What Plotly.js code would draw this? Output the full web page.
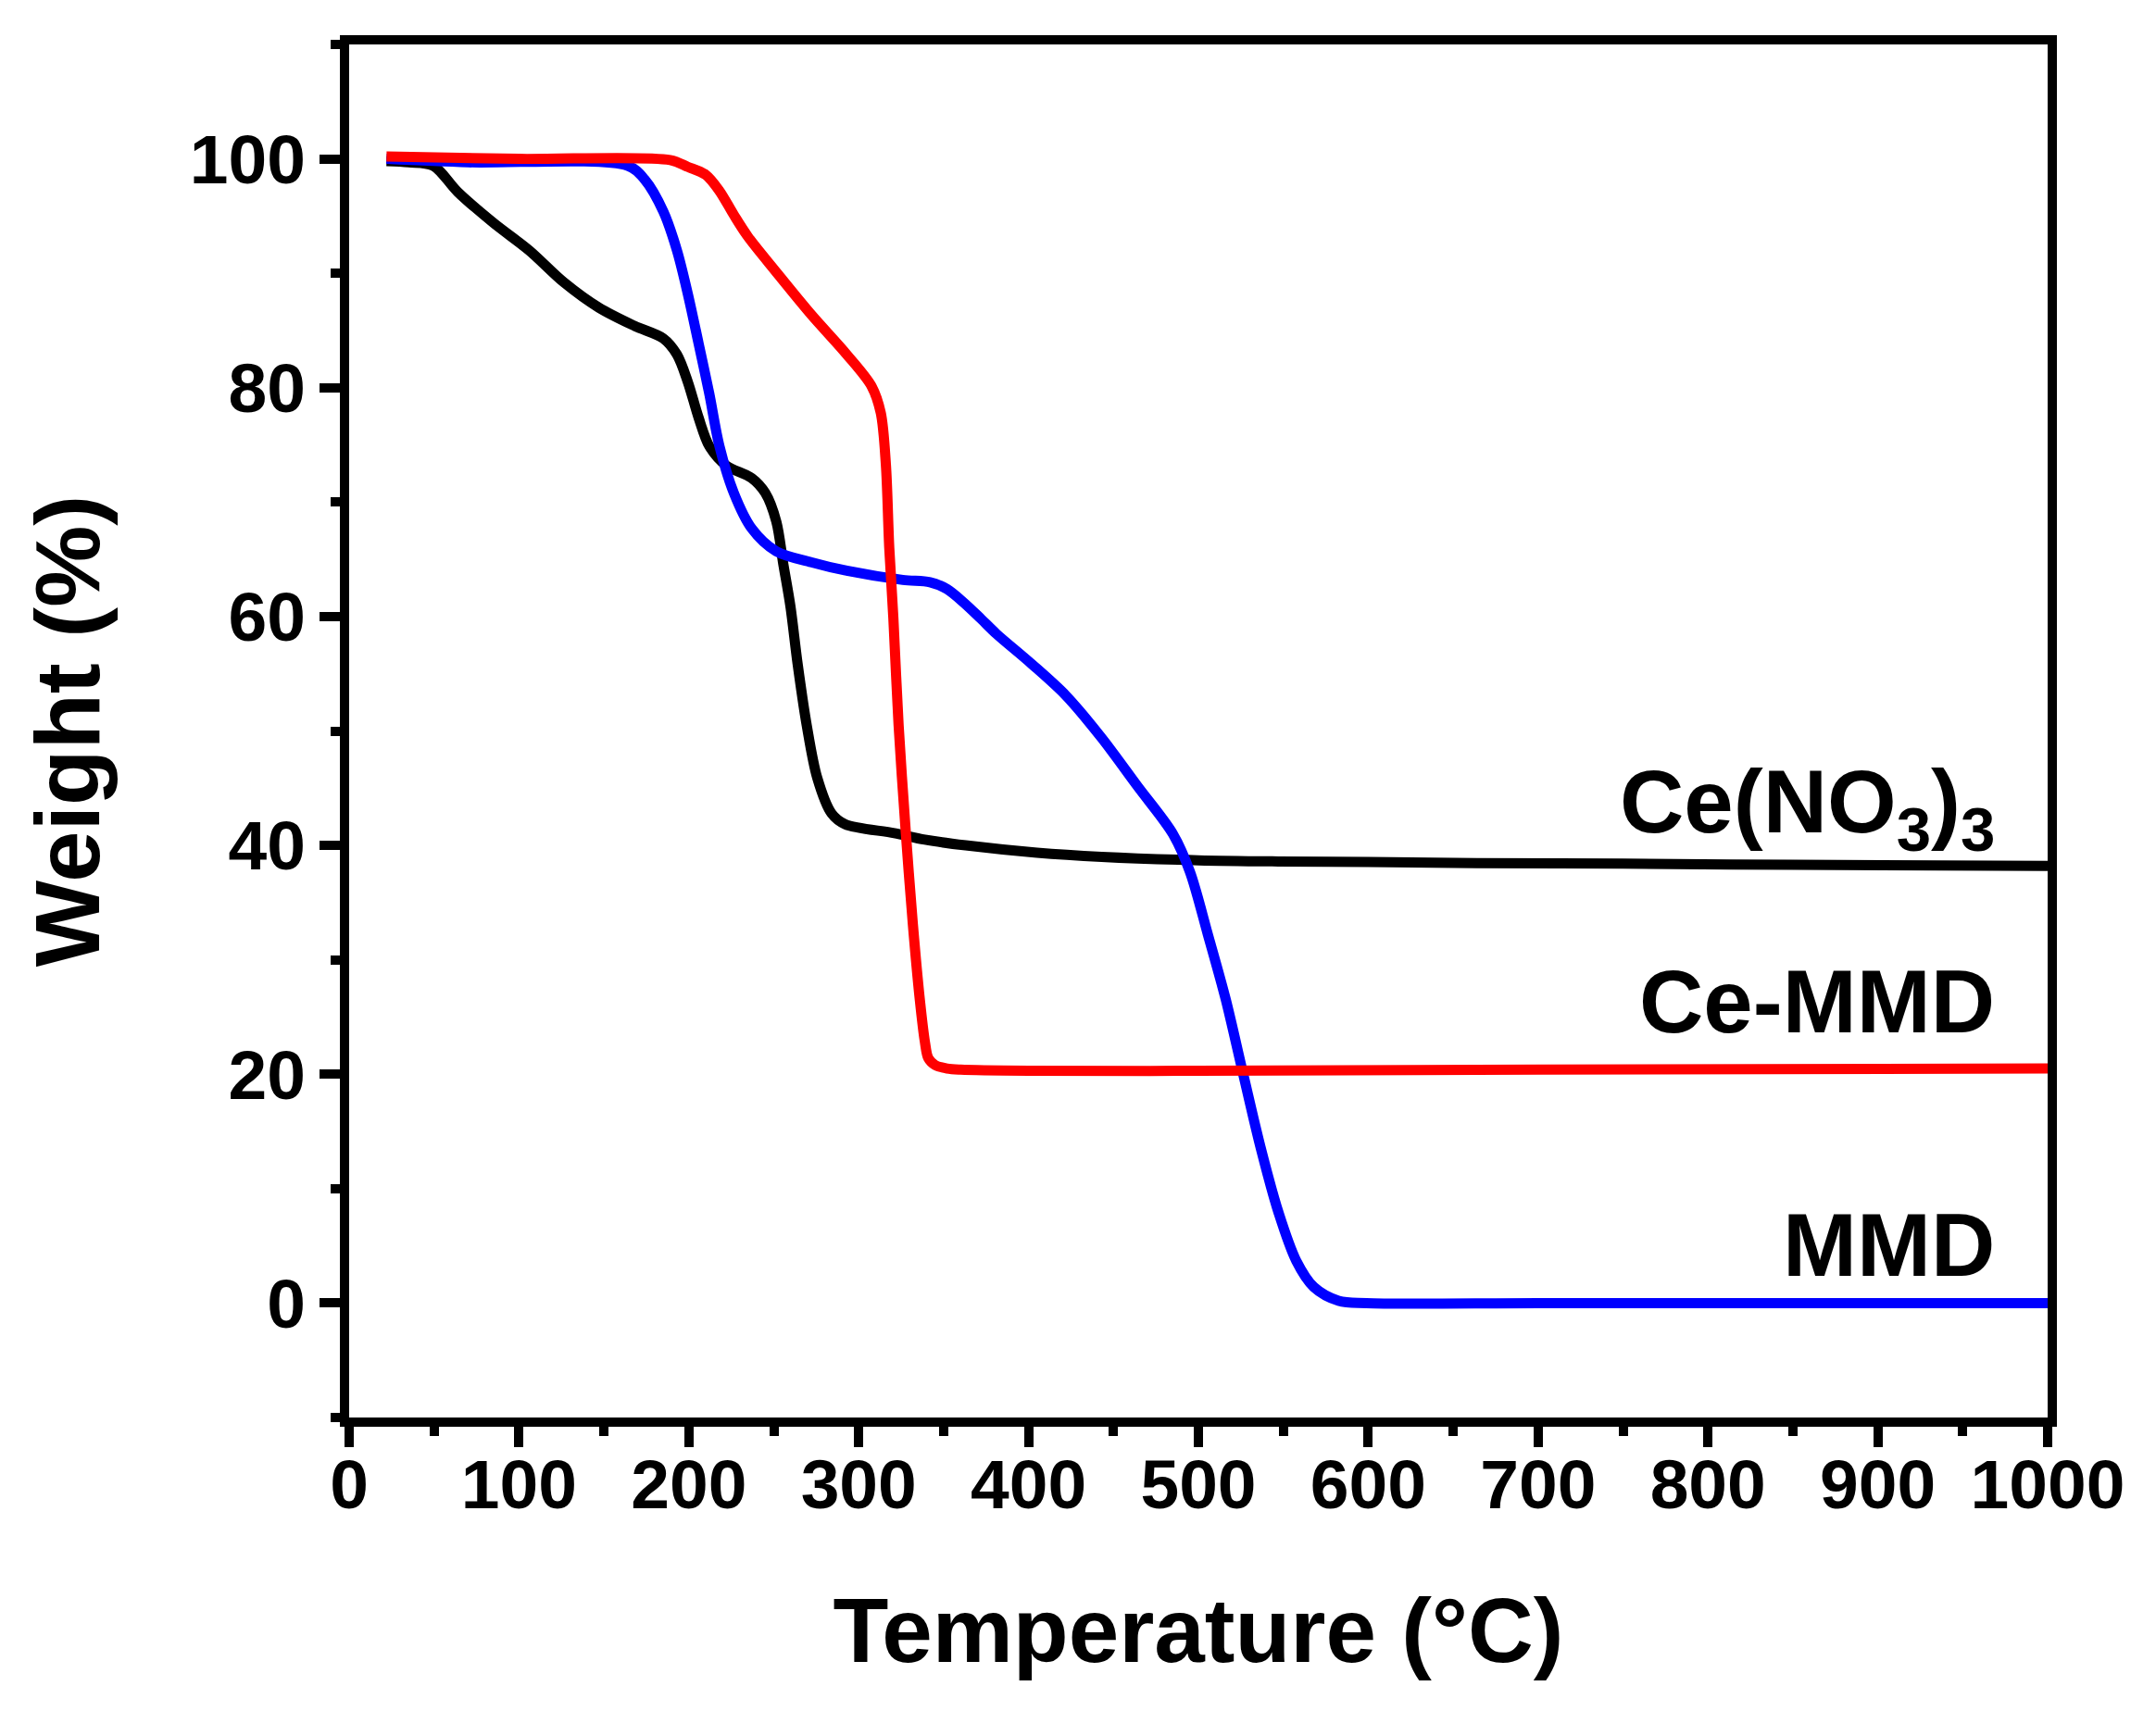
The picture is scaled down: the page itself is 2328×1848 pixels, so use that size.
<!DOCTYPE html>
<html>
<head>
<meta charset="utf-8">
<script src="https://cdn.plot.ly/plotly-3.0.1.min.js"></script>
<style>
  html, body { margin: 0; padding: 0; background: #ffffff; }
  #chart { width: 2328px; height: 1848px; }
</style>
</head>
<body>
<div id="chart"></div>
<script>
// Ce(NO3)3 (black)
const ceNitrateT = [22, 35, 49.5, 64, 85, 106, 126.5, 147, 168, 185, 193, 199.4, 205.7, 212, 222, 237, 245, 251.5, 255.6, 259.8, 264, 269.4, 275.6, 284, 292, 321, 339, 363, 405, 443, 500, 547, 600, 664, 750, 850, 1000];
const ceNitrateW = [99.8, 99.7, 99.4, 97.1, 94.4, 92.0, 89.2, 87.0, 85.4, 84.3, 82.9, 80.5, 77.4, 74.9, 73.2, 72.1, 70.8, 68.3, 64.6, 60.9, 55.9, 50.5, 45.9, 42.8, 41.85, 41.07, 40.5, 40.0, 39.36, 39.0, 38.7, 38.6, 38.55, 38.45, 38.4, 38.3, 38.2];

// MMD (blue)
const mmdT = [22, 70, 164, 174, 185, 193, 199.4, 205.7, 212, 218, 226.5, 237, 251.5, 272, 293, 326, 342, 352, 362, 372, 381, 401.5, 422, 443, 464, 485, 495, 505.6, 516, 526.4, 536.8, 547.2, 557.6, 568, 582.6, 599, 700, 850, 1000];
const mmdW = [100, 99.7, 99.4, 98.2, 95.4, 92.0, 88.2, 83.9, 79.5, 74.9, 70.8, 67.7, 65.7, 64.75, 64.0, 63.2, 63.0, 62.4, 61.2, 59.8, 58.5, 55.9, 53.1, 49.4, 45.2, 41.0, 37.7, 32.2, 26.6, 20.0, 13.5, 7.9, 3.7, 1.4, 0.2, 0.0, 0.0, 0.0, 0.0];

// Ce-MMD (red)
const ceMmdT = [22, 100, 189, 199.4, 210, 218, 226.5, 234.8, 251.5, 272, 293, 307.7, 313, 316, 318, 320.4, 323.5, 327.7, 331.9, 336, 339, 341, 345, 352, 360, 400, 500, 700, 1000];
const ceMmdW = [100.2, 100, 99.9, 99.3, 98.6, 97.2, 95.1, 93.2, 90.1, 86.4, 82.9, 80.1, 77.8, 73.3, 66.0, 59.9, 50.5, 41.2, 33.1, 26.5, 22.8, 21.4, 20.8, 20.5, 20.4, 20.3, 20.3, 20.4, 20.5];

// Axis ticks and labels
const xTicks = [0, 100, 200, 300, 400, 500, 600, 700, 800, 900, 1000];
const yTicks = [0, 20, 40, 60, 80, 100];
const seriesNames = ['Ce(NO<sub>3</sub>)<sub>3</sub>', 'MMD', 'Ce-MMD'];
const labelY = [43.3, 5.1, 26.4];
const labelX = [970, 970, 970];

const FONT = 'Liberation Sans, Arial, sans-serif';

const lineStyle = (c) => ({ color: c, width: 11, shape: 'spline', smoothing: 0.9 });

const traces = [
  { x: ceNitrateT, y: ceNitrateW, name: 'Ce(NO3)3', mode: 'lines', line: lineStyle('#000000') },
  { x: mmdT, y: mmdW, name: 'MMD', mode: 'lines', line: lineStyle('#0000ff') },
  { x: ceMmdT, y: ceMmdW, name: 'Ce-MMD', mode: 'lines', line: lineStyle('#ff0000') }
];

const annotations = seriesNames.map((t, i) => ({
  x: labelX[i], y: labelY[i], xref: 'x', yref: 'y',
  text: t, showarrow: false, xanchor: 'right', yanchor: 'middle',
  font: { family: FONT, size: 96, color: '#000000', weight: 'bold' }
}));

const layout = {
  width: 2328, height: 1848,
  margin: { l: 377, r: 117, t: 48, b: 317 },
  paper_bgcolor: '#ffffff', plot_bgcolor: '#ffffff',
  showlegend: false,
  xaxis: {
    range: [0, 1000], tickvals: xTicks, ticktext: xTicks.map(String),
    showgrid: false, zeroline: false,
    showline: true, linecolor: '#000000', linewidth: 10, mirror: true,
    ticks: 'outside', ticklen: 22, tickwidth: 10, tickcolor: '#000000',
    ticklabelstandoff: -24,
    minor: { dtick: 50, ticks: 'outside', ticklen: 10, tickwidth: 10, tickcolor: '#000000', showgrid: false },
    tickfont: { family: FONT, size: 75, color: '#000000', weight: 'bold' },
    title: { text: 'Temperature (°C)', standoff: 86,
             font: { family: FONT, size: 98, color: '#000000', weight: 'bold' } }
  },
  yaxis: {
    range: [-10, 110], tickvals: yTicks, ticktext: yTicks.map(String),
    showgrid: false, zeroline: false,
    showline: true, linecolor: '#000000', linewidth: 10, mirror: true,
    ticks: 'outside', ticklen: 22, tickwidth: 10, tickcolor: '#000000',
    minor: { dtick: 10, tick0: 0, ticks: 'outside', ticklen: 10, tickwidth: 10, tickcolor: '#000000', showgrid: false },
    tickfont: { family: FONT, size: 75, color: '#000000', weight: 'bold' },
    title: { text: 'Weight (%)', standoff: 68,
             font: { family: FONT, size: 99, color: '#000000', weight: 'bold' } }
  },
  annotations: annotations
};

Plotly.newPlot('chart', traces, layout, { staticPlot: true, displayModeBar: false });
</script>
</body>
</html>
